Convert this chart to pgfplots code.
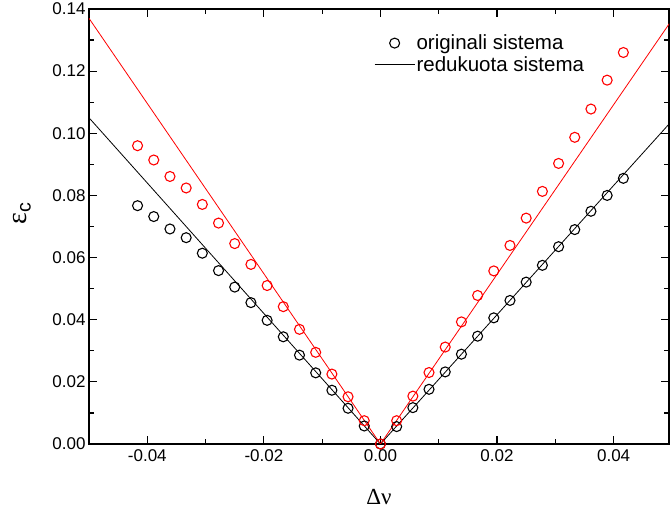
\documentclass[border=0pt]{standalone}
\usepackage{fontspec}
\setmainfont{Liberation Sans}
\newfontfamily\grk{Liberation Serif}
\usepackage{pgfplots}
\pgfplotsset{compat=1.18}
\begin{document}
\begin{tikzpicture}
\path[use as bounding box] (-89pt,-66pt) rectangle (581pt,444pt);
\begin{axis}[
  scale only axis, width=580pt, height=435pt,
  xmin=-0.05, xmax=0.0495, ymin=0, ymax=0.14,
  xtick={-0.04,-0.02,0,0.02,0.04},
  ytick={0,0.02,0.04,0.06,0.08,0.10,0.12,0.14},
  minor x tick num=1, minor y tick num=1,
  tick align=inside, major tick length=8pt, minor tick length=5pt,
  axis line style={line width=1.5pt}, every tick/.style={line width=1.2pt, black},
  /pgf/number format/assume math mode=true,
  /pgf/number format/.cd, fixed, fixed zerofill, precision=2, /pgfplots/.cd,
  scaled ticks=false,
  ticklabel style={font=\fontsize{17}{20}\selectfont},
  xticklabel style={yshift=-2pt},
  xlabel={{\grk Δν}}, ylabel={{\grk ε}\textsubscript{c}},
  xlabel style={font=\fontsize{23}{26}\selectfont, at={(axis description cs:0.5,-0.122)}, anchor=center},
  ylabel style={font=\fontsize{28}{30}\selectfont, at={(axis description cs:-0.115,0.53)}, anchor=center},
  legend style={draw=none, fill=none, at={(axis cs:-0.0011,0.1322)}, anchor=north west,
    font=\fontsize{20.5}{24}\selectfont, row sep=2pt, inner sep=0pt,
    nodes={inner sep=1.5pt}},
  legend cell align=left,
  legend image code/.code={\draw[mark repeat=2,mark phase=2] plot coordinates {(0pt,0pt)(20pt,0pt)(40pt,0pt)};},
]
\addplot[only marks, mark=o, mark size=5pt, black, line width=1.1pt,
  legend image code/.code={\draw[mark repeat=2,mark phase=2] plot coordinates {(0pt,0pt)(20pt,0pt)(40pt,0pt)};}] coordinates {
(-0.04167,0.0767)(-0.03889,0.0732)(-0.03611,0.0692)(-0.03333,0.0664)(-0.03056,0.0614)
(-0.02778,0.0558)(-0.025,0.0505)(-0.02222,0.0455)(-0.01944,0.0398)(-0.01667,0.0345)
(-0.01389,0.0286)(-0.01111,0.0229)(-0.00833,0.0173)(-0.00556,0.0115)(-0.00278,0.0058)
(0,0)
(0.00278,0.0056)(0.00556,0.0117)(0.00833,0.0176)(0.01111,0.0232)(0.01389,0.0289)
(0.01667,0.0347)(0.01944,0.0406)(0.02222,0.0462)(0.025,0.0521)(0.02778,0.0575)
(0.03056,0.0635)(0.03333,0.0690)(0.03611,0.0749)(0.03889,0.0800)(0.04167,0.0855)
};
\addlegendentry{originali sistema}
\addplot[black, line width=0.8pt, no marks] coordinates {(-0.05,0.105)(0,0)(0.05,0.104)};
\addlegendentry{redukuota sistema}
\addplot[forget plot, red, line width=0.8pt, no marks] coordinates {(-0.05,0.137)(0,0)(0.05,0.1365)};
\addplot[forget plot, only marks, mark=o, mark size=5pt, red, line width=1.1pt] coordinates {
(-0.04167,0.0960)(-0.03889,0.0914)(-0.03611,0.0861)(-0.03333,0.0824)(-0.03056,0.0771)
(-0.02778,0.0711)(-0.025,0.0645)(-0.02222,0.0578)(-0.01944,0.0510)(-0.01667,0.0442)
(-0.01389,0.0369)(-0.01111,0.0295)(-0.00833,0.0225)(-0.00556,0.0152)(-0.00278,0.0075)
(0,0)
(0.00278,0.0075)(0.00556,0.0154)(0.00833,0.0230)(0.01111,0.0312)(0.01389,0.0393)
(0.01667,0.0478)(0.01944,0.0557)(0.02222,0.0639)(0.025,0.0727)(0.02778,0.0813)
(0.03056,0.0903)(0.03333,0.0987)(0.03611,0.1078)(0.03889,0.1171)(0.04167,0.1260)
};
\end{axis}
\end{tikzpicture}
\end{document}
